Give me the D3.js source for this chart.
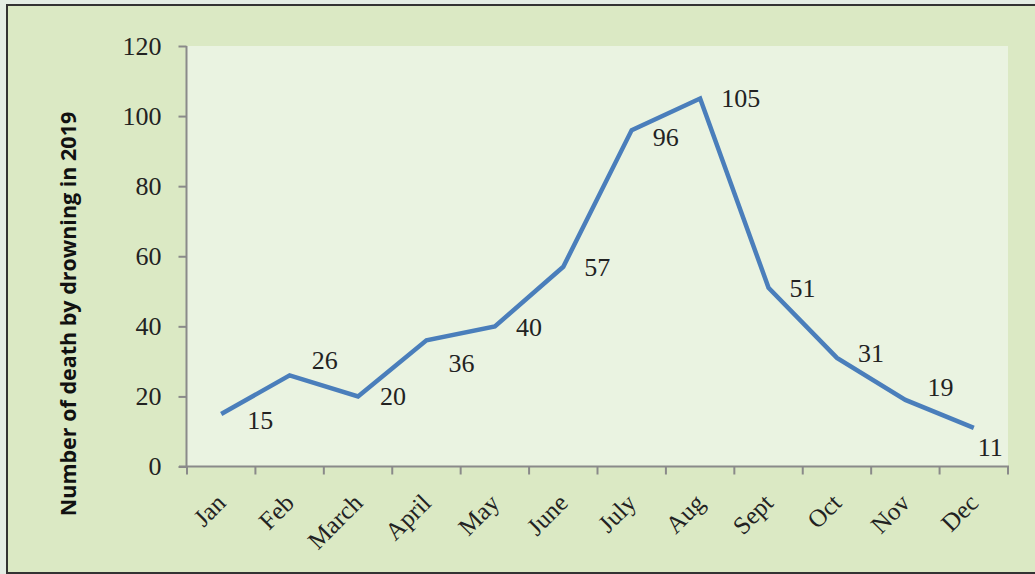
<!DOCTYPE html>
<html lang="en">
<head>
    <meta charset="utf-8">
    <title>Deaths by drowning 2019</title>
    <script src="https://d3js.org/d3.v7.min.js" charset="utf-8"></script>
    <style type="text/css">
        body { margin: 0; background: #e4ede4; }
        svg { display: block; }
    </style>
</head>
<body>
<script type="text/javascript">
    var months = ['Jan', 'Feb', 'March', 'April', 'May', 'June', 'July', 'Aug', 'Sept', 'Oct', 'Nov', 'Dec'];
    var deaths = [15, 26, 20, 36, 40, 57, 96, 105, 51, 31, 19, 11];
    var yTicks = [0, 20, 40, 60, 80, 100, 120];
    // where each value label sits relative to its point
    var labelOffsets = [[26, 15], [22, -6], [22, 9], [22, 32], [21, 10], [21, 9], [21, 16], [21, 8], [21, 9], [21, 4], [22, -4], [4, 28]];

    var W = 1035, H = 574;
    var svg = d3.select('body').append('svg').attr('width', W).attr('height', H);

    // frame
    svg.append('rect').attr('x', 7).attr('y', 5).attr('width', W + 10).attr('height', 568)
        .style('fill', '#dbe9c4').style('stroke', '#333').style('stroke-width', 2);

    var x = d3.scaleBand().domain(months).range([187, 1008]);
    var y = d3.scaleLinear().domain([0, 120]).range([466.5, 46]);

    svg.append('rect').attr('x', 187).attr('y', y(120)).attr('width', 1008 - 187).attr('height', y(0) - y(120))
        .style('fill', '#eaf3e1');

    var serif = '"Liberation Serif", "DejaVu Serif", serif';

    // y axis
    var yAxis = svg.append('g').attr('transform', 'translate(186.5,0)')
        .call(d3.axisLeft(y).tickValues(yTicks).tickSize(8).tickPadding(17));
    yAxis.selectAll('path, line').style('stroke', '#8a8a8a').style('stroke-width', 2);
    yAxis.select('.domain').attr('d', 'M0,' + y(120) + 'V' + y(0));
    yAxis.selectAll('text').style('font-family', serif).style('font-size', '26px').style('fill', '#222');

    // x axis line and boundary ticks
    var xg = svg.append('g');
    xg.append('line').attr('x1', 179).attr('x2', 1009).attr('y1', y(0)).attr('y2', y(0))
        .style('stroke', '#8a8a8a').style('stroke-width', 2);
    xg.selectAll('.xt').data(d3.range(months.length + 1)).enter().append('line')
        .attr('x1', function (i) { return 187 + i * x.step(); })
        .attr('x2', function (i) { return 187 + i * x.step(); })
        .attr('y1', y(0)).attr('y2', y(0) + 8)
        .style('stroke', '#8a8a8a').style('stroke-width', 2);
    xg.selectAll('.xl').data(months).enter().append('text')
        .attr('transform', function (d) {
            return 'translate(' + (x(d) + x.bandwidth() / 2 + 6) + ',' + (y(0) + 38) + ') rotate(-45)';
        })
        .attr('text-anchor', 'end')
        .style('font-family', serif).style('font-size', '25px').style('fill', '#222')
        .text(function (d) { return d; });

    // y title
    svg.append('text')
        .attr('transform', 'translate(76,314) rotate(-90)')
        .attr('text-anchor', 'middle')
        .style('font-family', '"Open Sans", sans-serif').style('font-weight', 'bold')
        .style('font-size', '21.5px').style('fill', '#111')
        .text('Number of death by drowning in 2019');

    // line
    var line = d3.line()
        .x(function (d, i) { return x(months[i]) + x.bandwidth() / 2; })
        .y(function (d) { return y(d); });
    svg.append('path').datum(deaths).attr('d', line)
        .style('fill', 'none').style('stroke', '#4a7ebb').style('stroke-width', 4.5);

    // value labels
    svg.selectAll('.vl').data(deaths).enter().append('text')
        .attr('x', function (d, i) { return x(months[i]) + x.bandwidth() / 2 + labelOffsets[i][0]; })
        .attr('y', function (d, i) { return y(d) + labelOffsets[i][1]; })
        .style('font-family', serif).style('font-size', '26px').style('fill', '#222')
        .text(function (d) { return d; });
</script>
</body>
</html>
